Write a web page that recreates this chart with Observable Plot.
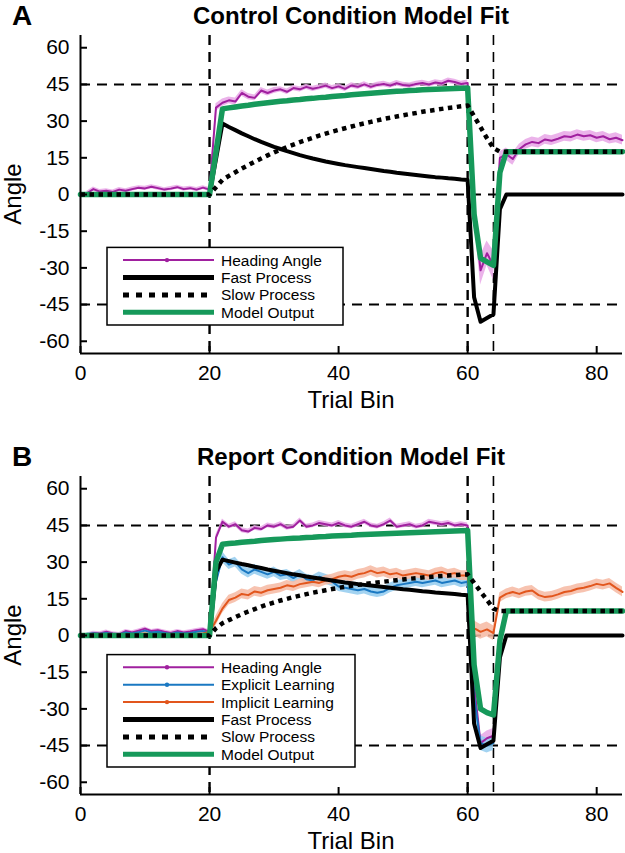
<!DOCTYPE html>
<html>
<head>
<meta charset="utf-8">
<script src="https://cdn.jsdelivr.net/npm/d3@7"></script>
<script src="https://cdn.jsdelivr.net/npm/@observablehq/plot@0.6"></script>
<style>
  body { margin: 0; background: #fff; }
  #fig { position: relative; width: 625px; height: 853px; background: #fff; }
  .panel { position: absolute; left: 0; width: 625px; height: 441px; }
  .panel svg { position: absolute; left: 0; top: 0; }
</style>
</head>
<body>
<div id="fig">
  <div class="panel" id="pA" style="top:0"></div>
  <div class="panel" id="pB" style="top:441px"></div>
</div>
<script>
const FONT = "'Liberation Sans', Arial, Helvetica, sans-serif";

// ---- axes / reference values ----
const xDomain = [0, 84];
const yDomain = [-65, 65];
const xTicks = [0, 20, 40, 60, 80];
const yTicks = [-60, -45, -30, -15, 0, 15, 30, 45, 60];
const hRefs = [45, 0, -45];
const vRefs = [20, 60, 64];
const xLabel = "Trial Bin";
const yLabel = "Angle";

// ---- Panel A: Control Condition (model bins 0..84) ----
const titleA = "Control Condition Model Fit";
const fastA = [0,0,0,0,0,0,0,0,0,0,0,0,0,0,0,0,0,0,0,0,0,
  14.5,29,27.6,26.3,25.0,23.8,22.6,21.5,20.5,19.5,18.6,17.7,16.9,16.1,15.4,14.7,14.1,13.5,13.0,12.5,
  12.0,11.6,11.2,10.8,10.4,10.0,9.6,9.3,8.9,8.6,8.3,8.0,7.7,7.4,7.1,6.9,6.6,6.4,6.1,5.9,
  -42,-52,-50.5,-49,-6,
  0,0,0,0,0,0,0,0,0,0,0,0,0,0,0,0,0,0,0];
const slowA = [0,0,0,0,0,0,0,0,0,0,0,0,0,0,0,0,0,0,0,0,0,
  3,6,7.6,9.1,10.6,12.0,13.4,14.7,16.0,17.2,18.3,19.4,20.4,21.4,22.3,23.2,24.1,24.9,25.7,26.4,
  27.1,27.8,28.5,29.1,29.7,30.3,30.9,31.4,31.9,32.4,32.9,33.3,33.8,34.2,34.6,35.0,35.4,35.7,36.1,36.4,
  32,27.5,23,19,17.5,
  17.5,17.5,17.5,17.5,17.5,17.5,17.5,17.5,17.5,17.5,17.5,17.5,17.5,17.5,17.5,17.5,17.5,17.5,17.5];
const outA = [0,0,0,0,0,0,0,0,0,0,0,0,0,0,0,0,0,0,0,0,0,
  17.5,35,35.4,35.8,36.2,36.5,36.9,37.2,37.5,37.8,38.1,38.3,38.6,38.8,39.1,39.3,39.6,39.8,40.1,40.3,
  40.5,40.8,41.0,41.2,41.4,41.6,41.8,42.0,42.2,42.3,42.5,42.6,42.8,42.9,43.0,43.1,43.2,43.3,43.4,43.5,
  -8,-26,-27.5,-29,9,
  17.5,17.5,17.5,17.5,17.5,17.5,17.5,17.5,17.5,17.5,17.5,17.5,17.5,17.5,17.5,17.5,17.5,17.5,17.5];
// heading angle, bins 1..84, with standard error
const headA = [0.5,2.2,1.2,1.5,1.0,2.0,1.5,2.2,2.8,2.5,3.2,2.6,2.0,2.4,3.0,2.2,2.6,2.0,2.8,2.0,
  35.5,37.5,38.5,38.0,41.5,40.0,39.5,42.5,41.5,42.5,43.0,42.0,43.5,43.0,44.0,43.2,43.8,44.5,43.5,44.2,
  43.2,44.6,44.0,45.0,44.0,44.8,45.2,44.5,45.5,44.8,44.5,45.2,45.6,45.0,45.8,45.4,46.5,46.0,45.2,45.6,
  -6,-31,-24,-29,
  15,16.5,14.5,18.5,20.5,21.5,21.0,22.5,22.0,22.8,23.8,23.5,24.5,23.8,24.2,23.2,23.8,22.6,23.2,22.2];
const headAse = [0.8,0.9,0.8,0.9,0.8,0.9,0.8,0.9,0.8,0.9,0.8,0.9,0.8,0.9,0.8,0.9,0.8,0.9,0.8,0.9,
  1.6,1.5,1.4,1.4,1.3,1.3,1.2,1.2,1.2,1.2,1.1,1.1,1.1,1.1,1.1,1.1,1.1,1.1,1.1,1.1,
  1.1,1.1,1.1,1.1,1.1,1.1,1.1,1.1,1.1,1.1,1.1,1.1,1.1,1.1,1.1,1.1,1.1,1.1,1.1,1.2,
  4,6,5,6,
  2.5,2.5,2.5,2.0,2.0,2.0,2.0,2.0,2.0,2.0,2.0,2.0,2.0,2.0,2.0,2.0,2.0,2.0,2.0,2.0];

// ---- Panel B: Report Condition (model bins 0..84) ----
const titleB = "Report Condition Model Fit";
const fastB = [0,0,0,0,0,0,0,0,0,0,0,0,0,0,0,0,0,0,0,0,0,
  26,31,30.4,29.8,29.2,28.7,28.1,27.6,27.0,26.5,26.0,25.5,25.0,24.6,24.1,23.7,23.3,22.9,22.5,22.1,
  21.7,21.4,21.0,20.7,20.4,20.1,19.8,19.5,19.2,18.9,18.7,18.4,18.1,17.9,17.6,17.4,17.2,17.0,16.7,16.5,
  -36,-46,-44.5,-43,-9,
  0,0,0,0,0,0,0,0,0,0,0,0,0,0,0,0,0,0,0];
const slowB = [0,0,0,0,0,0,0,0,0,0,0,0,0,0,0,0,0,0,0,0,0,
  3,5,6.3,7.5,8.7,9.8,10.8,11.8,12.7,13.5,14.3,15.0,15.7,16.3,16.9,17.5,18.0,18.5,19.0,19.5,
  19.9,20.3,20.7,21.0,21.4,21.7,22.0,22.3,22.6,22.9,23.2,23.4,23.7,23.9,24.1,24.3,24.5,24.7,24.9,25.0,
  21.5,18,14.5,11,10,
  10,10,10,10,10,10,10,10,10,10,10,10,10,10,10,10,10,10,10];
const outB = [0,0,0,0,0,0,0,0,0,0,0,0,0,0,0,0,0,0,0,0,0,
  30,37.3,37.6,37.8,38.1,38.3,38.5,38.8,39.0,39.2,39.4,39.6,39.8,39.9,40.1,40.2,40.4,40.5,40.7,40.8,
  40.9,41.0,41.2,41.3,41.4,41.5,41.6,41.7,41.8,41.9,42.0,42.1,42.2,42.3,42.4,42.5,42.6,42.7,42.8,42.9,
  -12,-30,-31.5,-32.5,-2,
  10,10,10,10,10,10,10,10,10,10,10,10,10,10,10,10,10,10,10];
// heading angle, bins 1..64
const headB = [0.3,1.0,0.8,1.5,0.8,0.5,1.8,1.2,2.0,2.8,1.8,2.2,1.5,1.0,1.8,1.2,1.6,2.2,2.6,1.5,
  40,46.5,44.5,45.5,43,42.5,44,43.5,45,44.5,45.5,44,44.5,47,44.5,45,46,45.5,45,46,
  45,44.5,45.5,46.5,45,44.5,45.5,47,44.5,45,45.5,44.5,45,46.5,46,45.5,46,45,45.5,45,
  -20,-44,-42,-41];
const headBse = [0.7,0.7,0.7,0.7,0.7,0.7,0.7,0.7,0.7,0.7,0.7,0.7,0.7,0.7,0.7,0.7,0.7,0.7,0.7,0.7,
  1.2,1.1,1.0,1.0,1.0,1.0,1.0,1.0,1.0,1.0,1.0,1.0,1.0,1.0,1.0,1.0,1.0,1.0,1.0,1.0,
  1.0,1.0,1.0,1.0,1.0,1.0,1.0,1.0,1.0,1.0,1.0,1.0,1.0,1.0,1.0,1.0,1.0,1.0,1.0,1.0,
  3,3,3,3];
// explicit learning, bins 1..64
const explB = [0.5,0.8,0.6,1,0.5,0.3,1.2,0.8,1.3,2,1.2,1.5,1,0.6,1.2,0.8,1,1.5,1.8,1,
  22,32,29,30,27,25.5,27,26,25,26,24.5,25,23.5,25,23,22.5,24,23,22,20,
  19.5,19,18.5,19,18,17.5,18,19.5,20.5,21,21.5,22,21.5,22,22.5,21.5,22,22.5,21.5,22,
  -25,-44,-45,-44];
const explBse = [0.5,0.5,0.5,0.5,0.5,0.5,0.5,0.5,0.5,0.5,0.5,0.5,0.5,0.5,0.5,0.5,0.5,0.5,0.5,0.5,
  2.0,2.2,2.0,2.0,2.0,2.0,2.0,2.0,2.0,2.0,2.0,2.0,2.0,2.0,2.0,2.0,2.0,2.0,2.0,2.0,
  2.0,2.0,2.0,2.0,2.0,2.0,2.0,2.0,2.0,2.0,2.0,2.0,2.0,2.0,2.0,2.0,2.0,2.0,2.0,2.0,
  3,3,3,3];
// implicit learning, bins 1..84
const implB = [0.2,0.3,0.2,0.4,0.3,0.2,0.5,0.4,0.6,0.7,0.5,0.6,0.4,0.3,0.5,0.4,0.5,0.6,0.8,1.5,
  6,11,14.5,15.5,17,16.5,18,17.5,18.5,19,19.5,20.5,20,21,21.5,22,21.5,22.5,23,24,
  24.5,24,25,25.5,26.5,25.5,26,25,25.5,24.5,25,25.5,25,24.5,25.5,26,25,25.5,24.5,24.5,
  3,1.5,2.5,1,
  15.5,17,17.8,17,18,18.4,16.5,15.7,16,16.8,17.8,18.2,19.1,19.5,20.2,21.1,20.6,21.3,19.5,17.8];
const implBse = [0.5,0.5,0.5,0.5,0.5,0.5,0.5,0.5,0.5,0.5,0.5,0.5,0.5,0.5,0.5,0.5,0.5,0.5,0.5,0.5,
  2.0,2.0,2.0,2.0,2.0,2.0,2.0,2.0,2.0,2.0,2.0,2.0,2.0,2.0,2.0,2.0,2.0,2.0,2.0,2.0,
  2.0,2.0,2.0,2.0,2.0,2.0,2.0,2.0,2.0,2.0,2.0,2.0,2.0,2.0,2.0,2.0,2.0,2.0,2.0,2.0,
  3,3,3,3,
  2.0,2.0,2.0,2.0,2.0,2.0,2.0,2.0,2.0,2.0,2.0,2.0,2.0,2.0,2.0,2.0,2.0,2.0,2.0,2.0];

// ---- colours ----
const C = {
  head: "#a0209f", headBand: "#e7a6e6",
  expl: "#1a78c2", explBand: "#93cbef",
  impl: "#e2561d", implBand: "#f6b8a2",
  model: "#16995a", black: "#000"
};

function modelRows(vals) { return vals.map((v, i) => ({bin: i, v})); }
function dataRows(vals, se) { return vals.map((v, i) => ({bin: i + 1, v, lo: v - se[i], hi: v + se[i]})); }

const LEG_ROW = 17.4;
const LEG_FONT = 15.5;

function drawPanel(el, cfg) {
  const marks = [
    Plot.ruleY(hRefs, {stroke: "black", strokeWidth: 2, strokeDasharray: "10,7"}),
    Plot.ruleX(vRefs, {stroke: "black", strokeWidth: d => d === 64 ? 1.6 : 2.4, strokeDasharray: "10,7"})
  ];
  for (const s of cfg.data) {
    marks.push(Plot.areaY(s.rows, {x: "bin", y1: "lo", y2: "hi", fill: s.band, fillOpacity: 0.85}));
  }
  for (const s of cfg.data) {
    marks.push(Plot.line(s.rows, {x: "bin", y: "v", stroke: s.color, strokeWidth: 2}));
  }
  marks.push(
    Plot.line(modelRows(cfg.fast), {x: "bin", y: "v", stroke: "black", strokeWidth: 4}),
    Plot.line(modelRows(cfg.out), {x: "bin", y: "v", stroke: C.model, strokeWidth: 5.5}),
    Plot.line(modelRows(cfg.slow), {x: "bin", y: "v", stroke: "black", strokeWidth: 4.5, strokeDasharray: "4.5,4.5", strokeLinecap: "butt"}),
    Plot.ruleX([xDomain[0]], {stroke: "black", strokeWidth: 2}),
    Plot.ruleY([yDomain[0]], {stroke: "black", strokeWidth: 2}),
    Plot.axisY(yTicks, {tickSize: 0, tickPadding: 11, fontSize: 21, tickFormat: d => String(d), label: null}),
    Plot.axisY(yTicks, {tickSize: -7, strokeWidth: 2, tickFormat: () => "", label: null}),
    Plot.axisX(xTicks, {tickSize: 0, tickPadding: 12, fontSize: 21, tickFormat: d => String(d), label: null}),
    Plot.axisX(xTicks, {tickSize: -7, strokeWidth: 2, tickFormat: () => "", label: null})
  );
  const svg = Plot.plot({
    width: 625, height: 441,
    marginTop: 35, marginBottom: 88, marginLeft: 80, marginRight: 3,
    x: {domain: xDomain, label: null},
    y: {domain: yDomain, label: null},
    style: {fontFamily: FONT, color: "black", background: "transparent", overflow: "visible"},
    marks
  });
  el.appendChild(svg);

  // overlay: panel letter, title, axis labels, legend
  const ov = d3.select(el).append("svg")
    .attr("width", 625).attr("height", 441)
    .style("font-family", FONT).style("overflow", "visible");
  ov.append("text").attr("x", 12).attr("y", 25).attr("font-size", 28).attr("font-weight", "bold").text(cfg.letter);
  ov.append("text").attr("x", 351).attr("y", 24).attr("font-size", 24).attr("font-weight", "bold")
    .attr("text-anchor", "middle").text(cfg.title);
  ov.append("text").attr("transform", "translate(21,194) rotate(-90)").attr("font-size", 24)
    .attr("text-anchor", "middle").text(yLabel);
  ov.append("text").attr("x", 351).attr("y", 408).attr("font-size", 24)
    .attr("text-anchor", "middle").text(xLabel);

  const n = cfg.legend.length;
  const boxH = 8 + n * LEG_ROW;
  const lg = ov.append("g").attr("transform", `translate(107,${cfg.legendBottom - boxH})`);
  lg.append("rect").attr("x", 0).attr("y", 0).attr("width", cfg.legendW).attr("height", boxH)
    .attr("fill", "white").attr("stroke", "black").attr("stroke-width", 1.5);
  cfg.legend.forEach((it, i) => {
    const cy = 4 + LEG_ROW / 2 + i * LEG_ROW;
    const ln = lg.append("line").attr("x1", 16).attr("x2", 107).attr("y1", cy).attr("y2", cy)
      .attr("stroke", it.color).attr("stroke-width", it.w);
    if (it.dash) ln.attr("stroke-dasharray", it.dash);
    if (it.dot) lg.append("circle").attr("cx", 60).attr("cy", cy).attr("r", 2.2).attr("fill", it.color);
    lg.append("text").attr("x", 114).attr("y", cy + 5.5).attr("font-size", LEG_FONT).text(it.label);
  });
}

drawPanel(document.getElementById("pA"), {
  letter: "A", title: titleA,
  data: [{rows: dataRows(headA, headAse), color: C.head, band: C.headBand}],
  fast: fastA, slow: slowA, out: outA,
  legendBottom: 325, legendW: 236,
  legend: [
    {label: "Heading Angle", color: C.head, w: 2, dot: true},
    {label: "Fast Process", color: "black", w: 5},
    {label: "Slow Process", color: "black", w: 5, dash: "6,7"},
    {label: "Model Output", color: C.model, w: 5}
  ]
});

drawPanel(document.getElementById("pB"), {
  letter: "B", title: titleB,
  data: [
    {rows: dataRows(headB, headBse), color: C.head, band: C.headBand},
    {rows: dataRows(explB, explBse), color: C.expl, band: C.explBand},
    {rows: dataRows(implB, implBse), color: C.impl, band: C.implBand}
  ],
  fast: fastB, slow: slowB, out: outB,
  legendBottom: 326, legendW: 248,
  legend: [
    {label: "Heading Angle", color: C.head, w: 2, dot: true},
    {label: "Explicit Learning", color: C.expl, w: 2, dot: true},
    {label: "Implicit Learning", color: C.impl, w: 2, dot: true},
    {label: "Fast Process", color: "black", w: 5},
    {label: "Slow Process", color: "black", w: 5, dash: "6,7"},
    {label: "Model Output", color: C.model, w: 5}
  ]
});
</script>
</body>
</html>
